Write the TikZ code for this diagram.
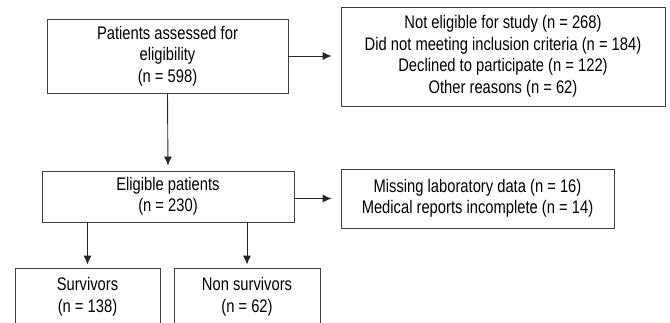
\documentclass[tikz,border=0pt]{standalone}
\usepackage{fontspec}
\setmainfont{Liberation Sans}[FakeStretch=0.81]
\usetikzlibrary{arrows.meta}

\begin{document}
\begin{tikzpicture}[x=1pt,y=-1pt,
        every node/.style={font=\fontsize{18.2}{21.5}\selectfont},
        stage/.style={draw=black!75,line width=0.9pt,align=center,inner sep=0pt},
        arr/.style={draw=black!85,line width=0.9pt,-{Latex[length=9pt,width=8pt]}}]
    \clip (0,0) rectangle (670,322);
    \node[stage,minimum width=241,minimum height=74] (assess) at (167.5,56) {Patients assessed for\\ eligibility\\ (n = 598)};
    \node[stage,minimum width=324,minimum height=99] (excl) at (503,56.5) {Not eligible for study (n = 268)\\ Did not meeting inclusion criteria (n = 184)\\ Declined to participate (n = 122)\\ Other reasons (n = 62)};
    \node[stage,minimum width=252,minimum height=51] (elig) at (168,196.5) {Eligible patients\\ (n = 230)};
    \node[stage,minimum width=273,minimum height=59] (missing) at (477.5,198.5) {Missing laboratory data (n = 16)\\ Medical reports incomplete (n = 14)};
    \node[stage,minimum width=145,minimum height=58] (surv) at (87.5,297) {Survivors\\ (n = 138)};
    \node[stage,minimum width=146,minimum height=58] (nonsurv) at (247,297) {Non survivors\\ (n = 62)};
    \draw[arr,shorten >=9pt] (assess.east) -- (excl.west |- assess.east);
    \draw[arr,shorten >=5pt] (assess.south) -- (elig.north);
    \draw[arr,shorten >=9pt] (elig.east |- missing.west) -- (missing.west);
    \draw[arr,shorten >=3pt] (elig.south -| surv) -- (surv.north);
    \draw[arr,shorten >=3pt] (elig.south -| nonsurv) -- (nonsurv.north);
\end{tikzpicture}
\end{document}
